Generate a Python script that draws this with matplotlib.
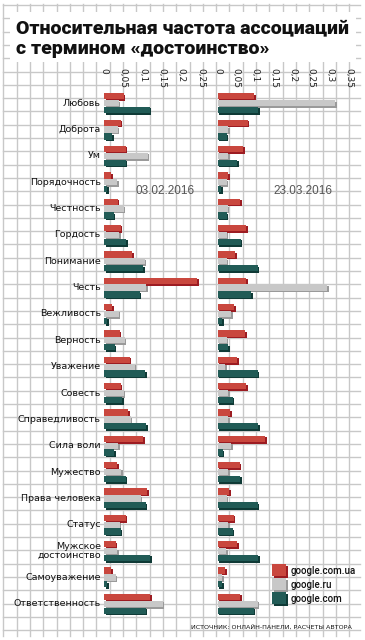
import numpy as np
import matplotlib
matplotlib.use("Agg")
import matplotlib.pyplot as plt

# категории и значения
categories = ['Любовь', 'Доброта', 'Ум', 'Порядочность', 'Честность', 'Гордость',
              'Понимание', 'Честь', 'Вежливость', 'Верность', 'Уважение', 'Совесть',
              'Справедливость', 'Сила воли', 'Мужество', 'Права человека', 'Статус',
              'Мужское\nдостоинство', 'Самоуважение', 'Ответственность']

# 03.02.2016
ua_1 = [0.051, 0.043, 0.056, 0.019, 0.036, 0.043, 0.073, 0.241, 0.021, 0.041,
        0.067, 0.043, 0.062, 0.101, 0.034, 0.112, 0.056, 0.030, 0.019, 0.120]
ru_1 = [0.038, 0.036, 0.113, 0.034, 0.051, 0.040, 0.105, 0.109, 0.038, 0.054,
        0.080, 0.051, 0.069, 0.037, 0.045, 0.095, 0.041, 0.034, 0.030, 0.152]
com_1 = [0.118, 0.021, 0.056, 0.008, 0.025, 0.057, 0.101, 0.093, 0.008, 0.028,
         0.106, 0.047, 0.109, 0.027, 0.056, 0.108, 0.043, 0.119, 0.008, 0.108]

# 23.03.2016
ua_2 = [0.098, 0.081, 0.069, 0.029, 0.061, 0.077, 0.047, 0.077, 0.045, 0.074,
        0.052, 0.077, 0.034, 0.127, 0.059, 0.031, 0.043, 0.052, 0.021, 0.061]
ru_2 = [0.314, 0.029, 0.029, 0.025, 0.027, 0.025, 0.025, 0.293, 0.036, 0.025,
        0.021, 0.029, 0.029, 0.036, 0.029, 0.025, 0.029, 0.023, 0.012, 0.107]
com_2 = [0.108, 0.025, 0.052, 0.010, 0.025, 0.062, 0.107, 0.090, 0.012, 0.028,
         0.107, 0.041, 0.109, 0.014, 0.061, 0.107, 0.041, 0.109, 0.012, 0.096]

ticks_1 = [0, 0.05, 0.1, 0.15, 0.2, 0.25]
ticks_2 = [0, 0.05, 0.1, 0.15, 0.2, 0.25, 0.3, 0.35]
legend_labels = ['google.com.ua', 'google.ru', 'google.com']

# цвета: основной и тень
colors = ['#c9473e', '#c8c8c8', '#215b56']
shades = ['#9c1c22', '#9a9a9a', '#0f3a36']

W, H = 365, 640
fig = plt.figure(figsize=(W / 100, H / 100), dpi=100)

# фон - бумага в клетку
bg = fig.add_axes([0, 0, 1, 1])
bg.set_xlim(0, W)
bg.set_ylim(H, 0)
bg.axis('off')
step = 13.3
for x in np.arange(3.3, 362, step):
    bg.plot([x, x], [4, 636], color='#c8c8c8', lw=1.0, zorder=0)
for y in np.arange(5, 638, step):
    bg.plot([3.3, 359.5], [y, y], color='#c8c8c8', lw=1.0, zorder=0)
bg.add_patch(plt.Rectangle((10, 12), 346, 50, facecolor='white', edgecolor='none', zorder=1))
bg.text(16, 39, 'Относительная частота ассоциаций\nс термином «достоинство»',
        fontsize=14, fontweight='black', family=['Roboto', 'DejaVu Sans'],
        va='center', ha='left', linespacing=1.2, color='#111111', zorder=2)

y = np.arange(len(categories))
offs = [-0.26, 0, 0.26]
bh = 0.24


def draw_panel(ax, series, xmax, ticks, date, date_x):
    sx = xmax * 1.6 / (ax.get_position().width * W)  # ~1.6px
    for i, vals in enumerate(series):
        ax.barh(y + offs[i] + 0.06, vals, height=bh, left=sx, color=shades[i], zorder=2 + i)
        ax.barh(y + offs[i], vals, height=bh, color=colors[i], zorder=2.5 + i)
    ax.set_xlim(0, xmax)
    ax.set_ylim(len(categories) - 0.5, -0.5)
    ax.patch.set_alpha(0)
    for s in ax.spines.values():
        s.set_visible(False)
    ax.set_xticks([])
    ax.set_yticks([])
    for t in ticks:
        lab = ('%g' % t).replace('.', ',')
        ax.text(t, 1.042, lab, transform=ax.get_xaxis_transform(), rotation=-90,
                ha='center', va='top', fontsize=6.5, color='#222222')
    ax.text(date_x, 0.808, date, transform=ax.transAxes, ha='center', va='center',
            fontsize=8.5, color='#555555', family='Liberation Sans')


top, bottom = 90, 617
ax1 = fig.add_axes([104 / W, (H - bottom) / H, 108 / W, (bottom - top) / H])
ax2 = fig.add_axes([217.5 / W, (H - bottom) / H, 137.5 / W, (bottom - top) / H])
draw_panel(ax1, [ua_1, ru_1, com_1], 108 / 386, ticks_1, '03.02.2016', 0.57)
draw_panel(ax2, [ua_2, ru_2, com_2], 137.5 / 375, ticks_2, '23.03.2016', 0.62)

# подписи категорий
for i, c in enumerate(categories):
    ax1.text(-0.03, i, c, transform=ax1.get_yaxis_transform(), ha='right', va='center',
             fontsize=6.8, color='#111111', linespacing=1.0)

# легенда
for i, lab in enumerate(legend_labels):
    yy = 571 + i * 14
    bg.add_patch(plt.Rectangle((274, yy - 5), 14, 12, facecolor=shades[i], zorder=3))
    bg.add_patch(plt.Rectangle((272, yy - 7), 14, 12, facecolor=colors[i], zorder=4))
    bg.text(291, yy, lab, fontsize=7, fontweight='medium', family=['Roboto', 'DejaVu Sans'],
            ha='left', va='center', color='#111111', zorder=4)

bg.text(352, 627, 'ИСТОЧНИК: ОНЛАЙН-ПАНЕЛИ, РАСЧЕТЫ АВТОРА', fontsize=4.6,
        ha='right', va='center', color='#111111', zorder=4)

fig.savefig('out.png', dpi=100)
